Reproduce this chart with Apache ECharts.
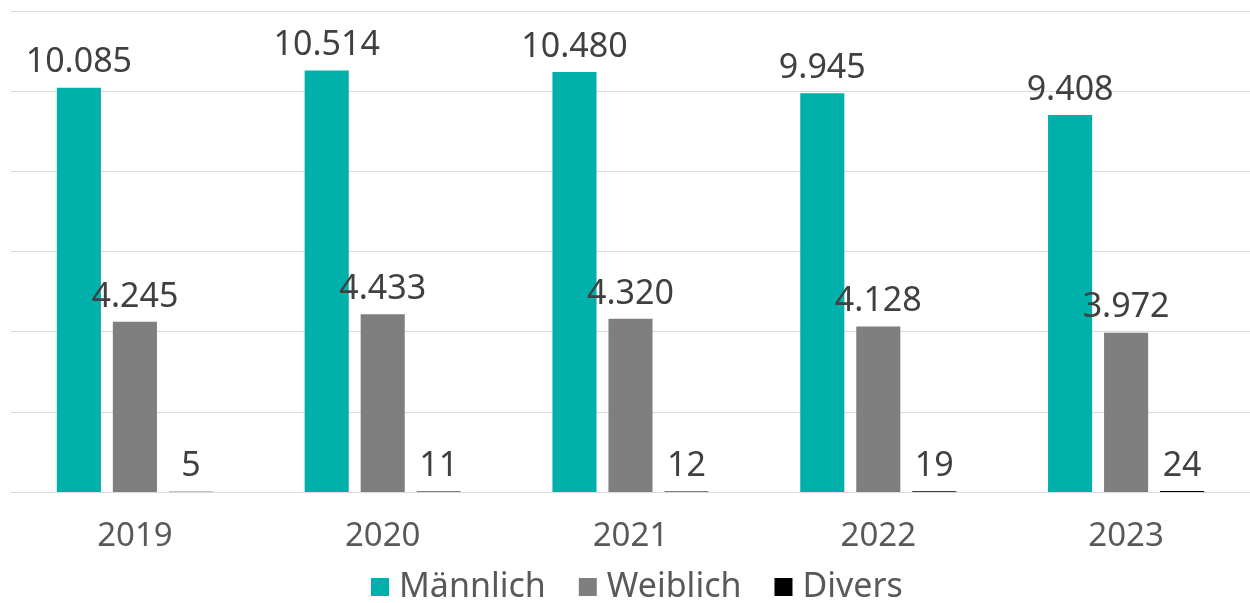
<!DOCTYPE html>
<html>
<head>
<meta charset="utf-8">
<script src="https://cdn.jsdelivr.net/npm/echarts@6/dist/echarts.min.js"></script>
<style>
    html, body { margin: 0; padding: 0; background: #fff; }
</style>
</head>
<body>
<div id="main" style="width:1250px;height:603px;"></div>
<script type="text/javascript">
    // Daten
    var jahre = ['2019', '2020', '2021', '2022', '2023'];
    var maennlich = [10085, 10514, 10480, 9945, 9408];
    var weiblich = [4245, 4433, 4320, 4128, 3972];
    var divers = [5, 11, 12, 19, 24];

    var schrift = '"Noto Sans", "Open Sans", sans-serif';

    function tausender(p) {
        return String(p.value).replace(/\B(?=(\d{3})+(?!\d))/g, '.');
    }

    var labelStyle = {
        show: true,
        position: 'top',
        distance: 8,
        color: '#404040',
        fontSize: 34,
        fontFamily: schrift,
        formatter: tausender
    };

    var myChart = echarts.init(document.getElementById('main'));

    var option = {
        animation: false,
        grid: { left: 11, right: 0, top: 11, bottom: 111, containLabel: false },
        legend: {
            bottom: -6,
            left: 366,
            itemWidth: 18,
            itemHeight: 18,
            itemGap: 33,
            icon: 'rect',
            textStyle: { color: '#595959', fontSize: 34, fontFamily: schrift, padding: [0, 0, 0, 5] },
            data: ['Männlich', 'Weiblich', 'Divers']
        },
        xAxis: {
            type: 'category',
            data: jahre,
            axisTick: { show: false },
            axisLine: { lineStyle: { color: '#d9d9d9', width: 1 } },
            axisLabel: { color: '#595959', fontSize: 33, fontFamily: schrift, margin: 28 }
        },
        yAxis: {
            type: 'value',
            min: 0,
            max: 12000,
            interval: 2000,
            axisLabel: { show: false },
            axisLine: { show: false },
            axisTick: { show: false },
            splitLine: { lineStyle: { color: '#d9d9d9', width: 1 } }
        },
        series: [
            {
                name: 'Männlich',
                type: 'bar',
                data: maennlich,
                barGap: '27%',
                barCategoryGap: '37%',
                itemStyle: { color: '#00b0aa' },
                label: labelStyle
            },
            {
                name: 'Weiblich',
                type: 'bar',
                data: weiblich,
                itemStyle: { color: '#7f7f7f' },
                label: labelStyle
            },
            {
                name: 'Divers',
                type: 'bar',
                data: divers,
                itemStyle: { color: '#000000' },
                label: labelStyle
            }
        ]
    };

    myChart.setOption(option);
</script>
</body>
</html>
